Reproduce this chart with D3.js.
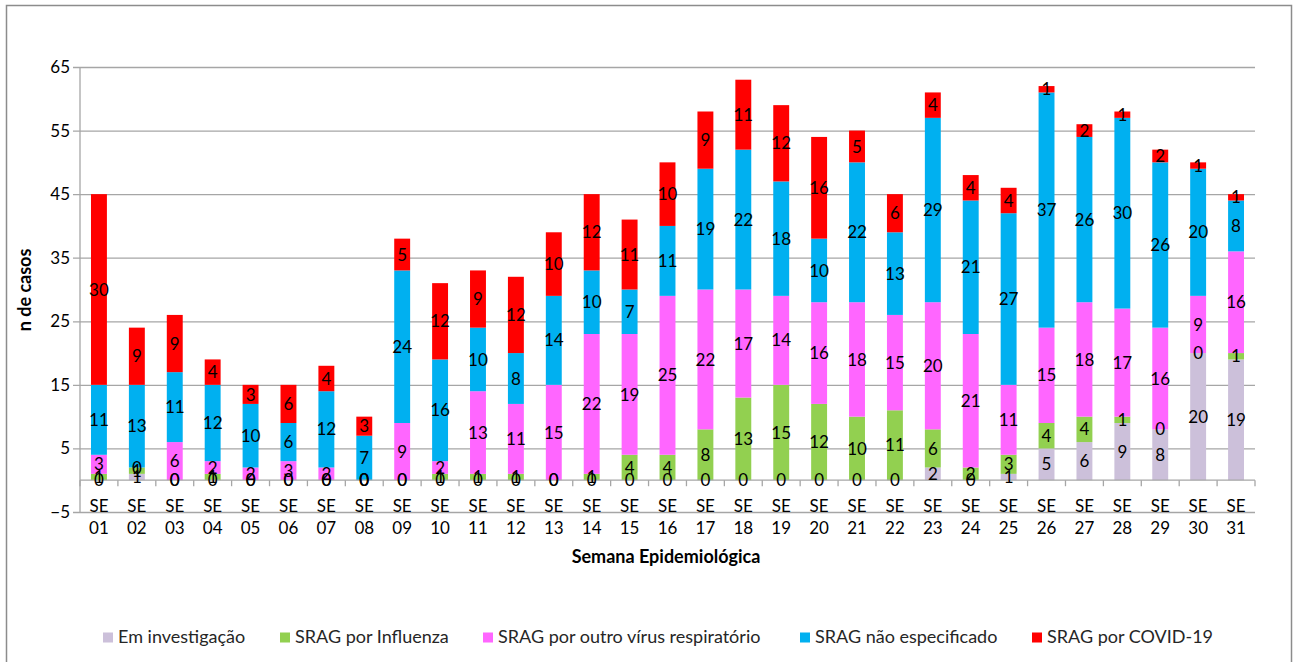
<!DOCTYPE html>
<html>
<head>
<meta charset="utf-8">
<script src="https://cdn.jsdelivr.net/npm/d3@7"></script>
<style>
  html, body { margin: 0; padding: 0; background: #fff; }
  svg { display: block; font-family: Lato, "Liberation Sans", sans-serif; }
</style>
</head>
<body>
<svg id="chart" width="1295" height="662"></svg>
<script>
// Semanas epidemiológicas
const weeks = ["01","02","03","04","05","06","07","08","09","10","11","12","13","14","15","16",
               "17","18","19","20","21","22","23","24","25","26","27","28","29","30","31"];

// Casos por classificação, em ordem de empilhamento (base -> topo)
const emInvestigacao = [0,1,0,0,0,0,0,0,0,0,0,0,0,0,0,0,0,0,0,0,0,0,2,0,1,5,6,9,8,20,19];
const influenza      = [1,1,0,1,0,0,0,0,0,1,1,1,0,1,4,4,8,13,15,12,10,11,6,2,3,4,4,1,0,0,1];
const outroVirus     = [3,0,6,2,2,3,2,0,9,2,13,11,15,22,19,25,22,17,14,16,18,15,20,21,11,15,18,17,16,9,16];
const naoEspecificado= [11,13,11,12,10,6,12,7,24,16,10,8,14,10,7,11,19,22,18,10,22,13,29,21,27,37,26,30,26,20,8];
const covid19        = [30,9,9,4,3,6,4,3,5,12,9,12,10,12,11,10,9,11,12,16,5,6,4,4,4,1,2,1,2,1,1];

const seriesNames  = ["Em investigação","SRAG por Influenza","SRAG por outro vírus respiratório","SRAG não especificado","SRAG por COVID-19"];
const seriesValues = [emInvestigacao, influenza, outroVirus, naoEspecificado, covid19];
const seriesColors = ["#CCC0DA","#92D050","#FF66FF","#00B0F0","#FF0000"];

const yTicks = [-5,5,15,25,35,45,55,65];

const svg = d3.select("#chart");

// moldura do gráfico
svg.append("rect")
  .attr("x", 6.5).attr("y", 5.5).attr("width", 1285).attr("height", 700)
  .attr("fill", "none").attr("stroke", "#8c8c8c").attr("stroke-width", 1.5);

const plotLeft = 80, plotRight = 1255, plotTop = 67, plotBottom = 512;

const x = d3.scaleBand().domain(weeks).range([plotLeft, plotRight]).paddingInner(0.58).paddingOuter(0.29);
const y = d3.scaleLinear().domain([-5, 65]).range([plotBottom, plotTop]);

// linhas de grade e rótulos do eixo Y
const yAxis = d3.axisLeft(y).tickValues(yTicks).tickSize(-(plotRight - plotLeft)).tickFormat(d3.format("d")).tickPadding(10);
const gy = svg.append("g").attr("transform", `translate(${plotLeft},0)`).call(yAxis);
gy.select(".domain").remove();
gy.selectAll(".tick line").attr("stroke", "#a6a6a6").attr("stroke-width", 1.3).attr("x1", -7);
gy.selectAll(".tick text").attr("font-size", 17).attr("fill", "#000").attr("font-family", "Lato, sans-serif");

// eixo vertical
svg.append("line").attr("x1", plotLeft).attr("x2", plotLeft).attr("y1", y(65)).attr("y2", y(-5))
  .attr("stroke", "#a6a6a6").attr("stroke-width", 1.3);

// dados empilhados
const table = weeks.map((w, i) => {
  const row = { week: w };
  seriesNames.forEach((s, k) => row[s] = seriesValues[k][i]);
  return row;
});
const stacked = d3.stack().keys(seriesNames)(table);

const layers = svg.append("g").selectAll("g").data(stacked).join("g")
  .attr("fill", (d, k) => seriesColors[k]);

layers.selectAll("rect").data(d => d).join("rect")
  .attr("x", d => x(d.data.week))
  .attr("width", x.bandwidth())
  .attr("y", d => y(d[1]))
  .attr("height", d => y(d[0]) - y(d[1]));

// eixo horizontal em zero, com marcas entre as categorias
svg.append("line").attr("x1", plotLeft).attr("x2", plotRight).attr("y1", y(0)).attr("y2", y(0))
  .attr("stroke", "#a6a6a6").attr("stroke-width", 1.3);
const step = x.step();
svg.append("g").selectAll("line").data(d3.range(weeks.length + 1)).join("line")
  .attr("x1", i => plotLeft + i * step).attr("x2", i => plotLeft + i * step)
  .attr("y1", y(0)).attr("y2", y(0) + 6)
  .attr("stroke", "#a6a6a6").attr("stroke-width", 1.3);

// rótulos de valor (no centro de cada segmento, inclusive zeros)
const labels = svg.append("g").attr("font-size", 17).attr("fill", "#000").attr("text-anchor", "middle");
stacked.forEach(layer => {
  labels.append("g").selectAll("text").data(layer).join("text")
    .attr("x", d => x(d.data.week) + x.bandwidth() / 2)
    .attr("y", d => y((d[0] + d[1]) / 2))
    .attr("dy", "0.36em")
    .text(d => d[1] - d[0]);
});

// rótulos das semanas
const xl = svg.append("g").attr("font-size", 17).attr("fill", "#000").attr("text-anchor", "middle");
xl.append("g").selectAll("text").data(weeks).join("text")
  .attr("x", d => x(d) + x.bandwidth() / 2).attr("y", 506).attr("dy", "0.36em").text("SE");
xl.append("g").selectAll("text").data(weeks).join("text")
  .attr("x", d => x(d) + x.bandwidth() / 2).attr("y", 528).attr("dy", "0.36em").text(d => d);

// títulos dos eixos
svg.append("text").attr("x", 666).attr("y", 557).attr("dy", "0.36em")
  .attr("text-anchor", "middle").attr("font-size", 18).attr("font-weight", "bold")
  .text("Semana Epidemiológica");
svg.append("text").attr("transform", `translate(25,290) rotate(-90)`).attr("dy", "0.36em")
  .attr("text-anchor", "middle").attr("font-size", 18).attr("font-weight", "bold")
  .text("n de casos");

// legenda
const legendX = [103, 280, 483, 800, 1032];
const lg = svg.append("g").selectAll("g").data(seriesNames).join("g")
  .attr("transform", (d, k) => `translate(${legendX[k]},637)`);
lg.append("rect").attr("x", 0).attr("y", -4.5).attr("width", 10).attr("height", 10)
  .attr("fill", (d, k) => seriesColors[k]);
lg.append("text").attr("x", 15).attr("dy", "0.36em").attr("font-size", 18).attr("fill", "#262626").text(d => d);
</script>
</body>
</html>
